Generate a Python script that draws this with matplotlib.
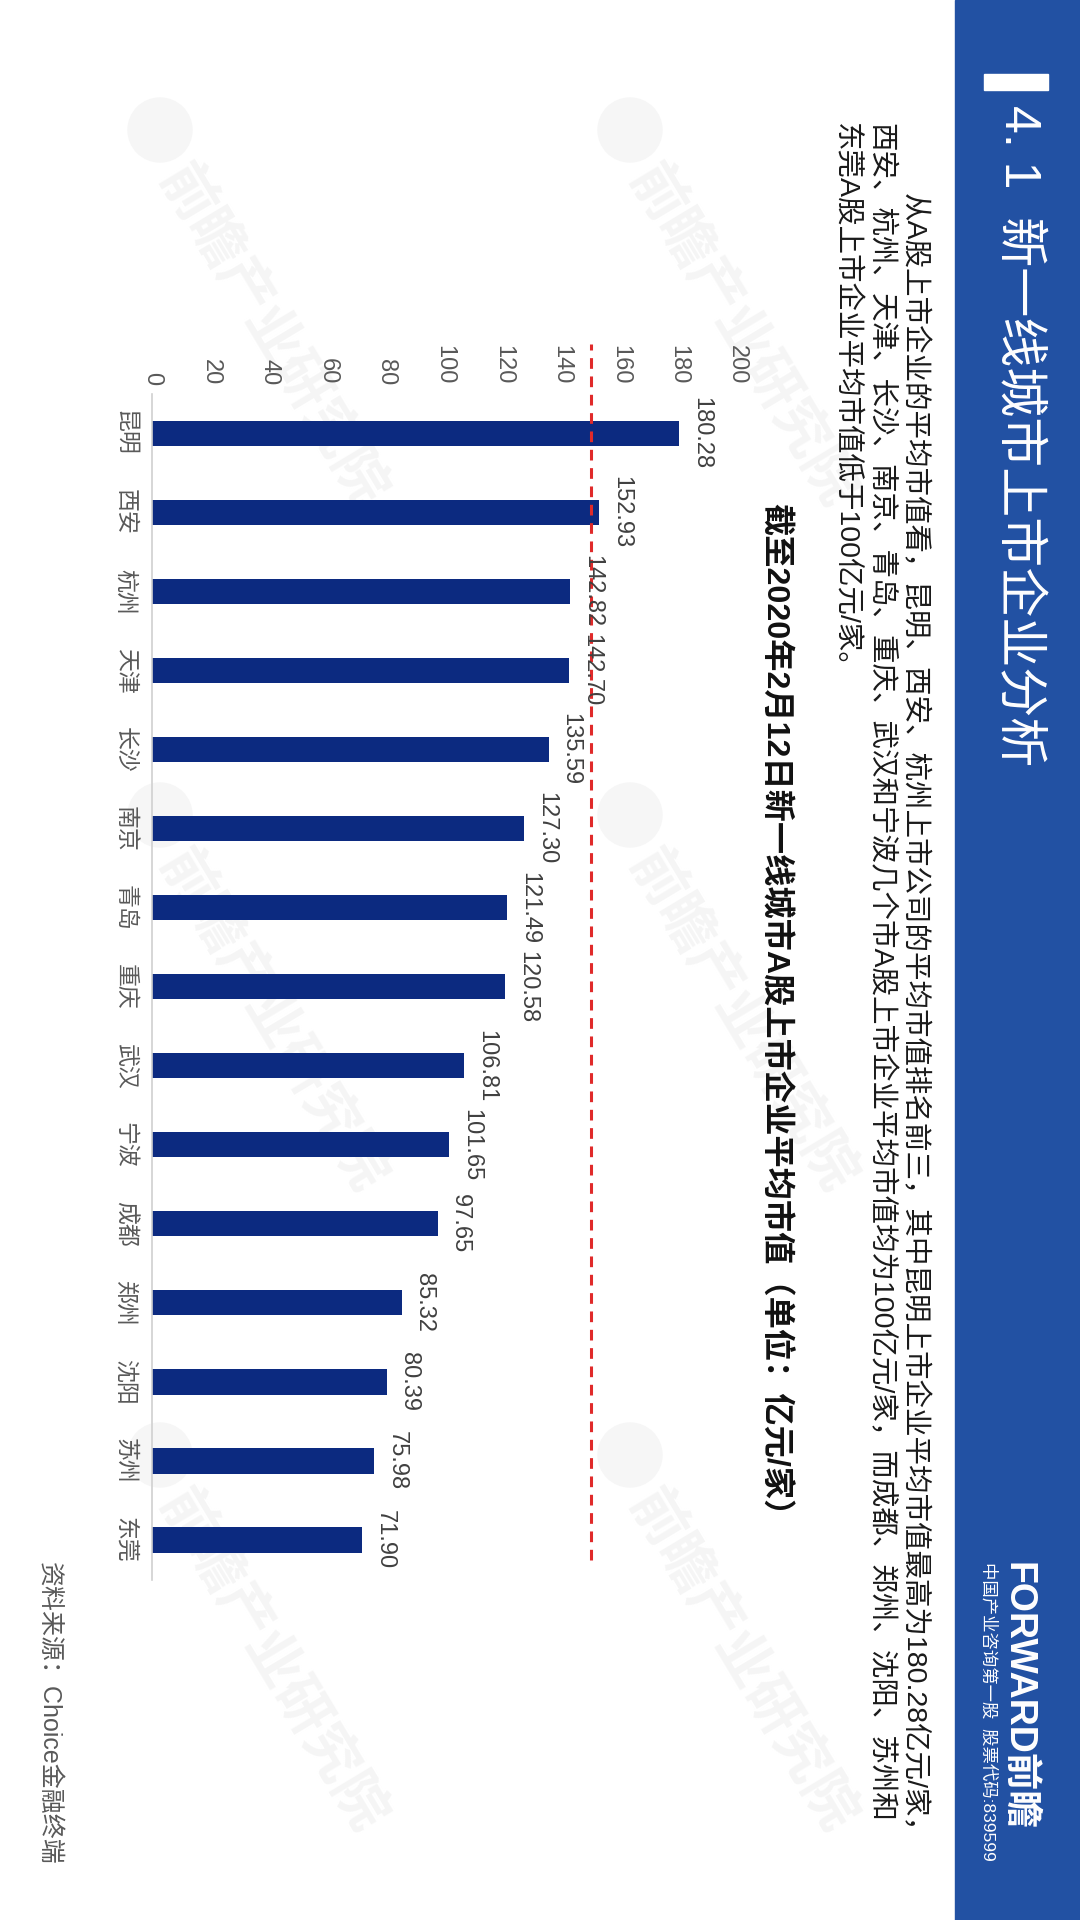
import matplotlib
matplotlib.use('Agg')
import matplotlib.pyplot as plt
import matplotlib.transforms as mtransforms
from matplotlib.patches import Rectangle, Circle

plt.rcParams['font.family'] = ['Liberation Sans', 'Noto Sans CJK SC', 'DejaVu Sans']

# data
cities = ['昆明', '西安', '杭州', '天津', '长沙', '南京', '青岛', '重庆',
          '武汉', '宁波', '成都', '郑州', '沈阳', '苏州', '东莞']
values = [180.28, 152.93, 142.82, 142.70, 135.59, 127.30, 121.49, 120.58,
          106.81, 101.65, 97.65, 85.32, 80.39, 75.98, 71.90]
xticks = list(range(0, 201, 20))
threshold = 150

title = '4. 1  新一线城市上市企业分析'
chart_title = '截至2020年2月12日新一线城市A股上市企业平均市值（单位：亿元/家）'
desc = ['从A股上市企业的平均市值看，昆明、西安、杭州上市公司的平均市值排名前三，其中昆明上市企业平均市值最高为180.28亿元/家，',
        '西安、杭州、天津、长沙、南京、青岛、重庆、武汉和宁波几个市A股上市企业平均市值均为100亿元/家，而成都、郑州、沈阳、苏州和',
        '东莞A股上市企业平均市值低于100亿元/家。']
source = '资料来源：Choice金融终端'

W, H = 1080, 1920


def fx(px):
    return px / W


def fy(py):
    return 1 - py / H


fig = plt.figure(figsize=(10.8, 19.2), dpi=100)

# faint watermarks
for px, py in [(160, 130), (630, 130), (160, 815), (630, 815), (160, 1455), (630, 1455)]:
    fig.add_artist(Circle((px / 100, (H - py) / 100), 0.32, transform=fig.dpi_scale_trans,
                          color='#f6f6f6', zorder=-2))
    fig.text(fx(px + 10), fy(py + 40), '前瞻产业研究院', rotation=-59, rotation_mode='anchor',
             ha='left', va='center', fontsize=40, fontweight='bold', color='#f5f5f5', zorder=-1)

# blue side band
fig.add_artist(Rectangle((fx(955), 0), 1 - fx(955), 1, transform=fig.transFigure,
                         color='#2251a3', zorder=1))
fig.add_artist(Rectangle((fx(984), fy(90)), 64 / W, 16 / H, transform=fig.transFigure,
                         color='white', zorder=2))
fig.text(fx(1018), fy(105), title, rotation=-90, ha='center', va='top',
         fontsize=36, color='white', zorder=3)
fig.text(fx(1018), fy(1562), 'FORWARD前瞻', rotation=-90, ha='center', va='top',
         fontsize=27, fontweight='bold', color='white', zorder=3)
fig.text(fx(989), fy(1562), '中国产业咨询第一股  股票代码:839599', rotation=-90, ha='center', va='top',
         fontsize=12.5, color='white', zorder=3)

# description
for line, px, py in zip(desc, [913, 880, 845], [193, 123, 123]):
    fig.text(fx(px), fy(py), line, rotation=-90, ha='center', va='top',
             fontsize=20.5, color='#1a1a1a')

fig.text(fx(775), fy(503), chart_title, rotation=-90, ha='center', va='top',
         fontsize=23.2, fontweight='bold', color='#111111')

fig.text(fx(48), fy(1562), source, rotation=-90, ha='center', va='top',
         fontsize=18, color='#595959')

# chart
ax = fig.add_axes([fx(152), fy(1579.5), fx(737) - fx(152), (1579.5 - 393.8) / H])
ax.patch.set_visible(False)
n = len(cities)
ax.barh(range(n), values, height=0.32, color='#0c2a80', zorder=2)
ax.set_xlim(0, 200)
ax.set_ylim(n - 0.5, -0.5)
ax.set_xticks(xticks)
ax.set_yticks(range(n))
ax.set_yticklabels(cities)
ax.xaxis.tick_top()
ax.tick_params(axis='x', length=0, pad=6.5, labelsize=17, labelcolor='#595959', labelrotation=-90)
ax.tick_params(axis='y', length=0, pad=11, labelsize=16.5, labelcolor='#595959', labelrotation=-90)
for lab in ax.get_yticklabels():
    lab.set_va('center')
for s in ['top', 'right', 'bottom']:
    ax.spines[s].set_visible(False)
ax.spines['left'].set_color('#d0d0d0')
ax.spines['left'].set_linewidth(1.2)

for i, v in enumerate(values):
    ax.annotate(f'{v:.2f}', xy=(v, i), xytext=(8, 0), textcoords='offset points',
                rotation=-90, ha='left', va='center', fontsize=17, color='#404040', zorder=4)

trans = mtransforms.blended_transform_factory(ax.transData, ax.transAxes)
ax.plot([threshold, threshold], [0.0164, 1.042], transform=trans, color='#e02a2a',
        lw=2.2, dashes=(3.5, 2.5), clip_on=False, zorder=3)

fig.savefig('out.png', dpi=100)
